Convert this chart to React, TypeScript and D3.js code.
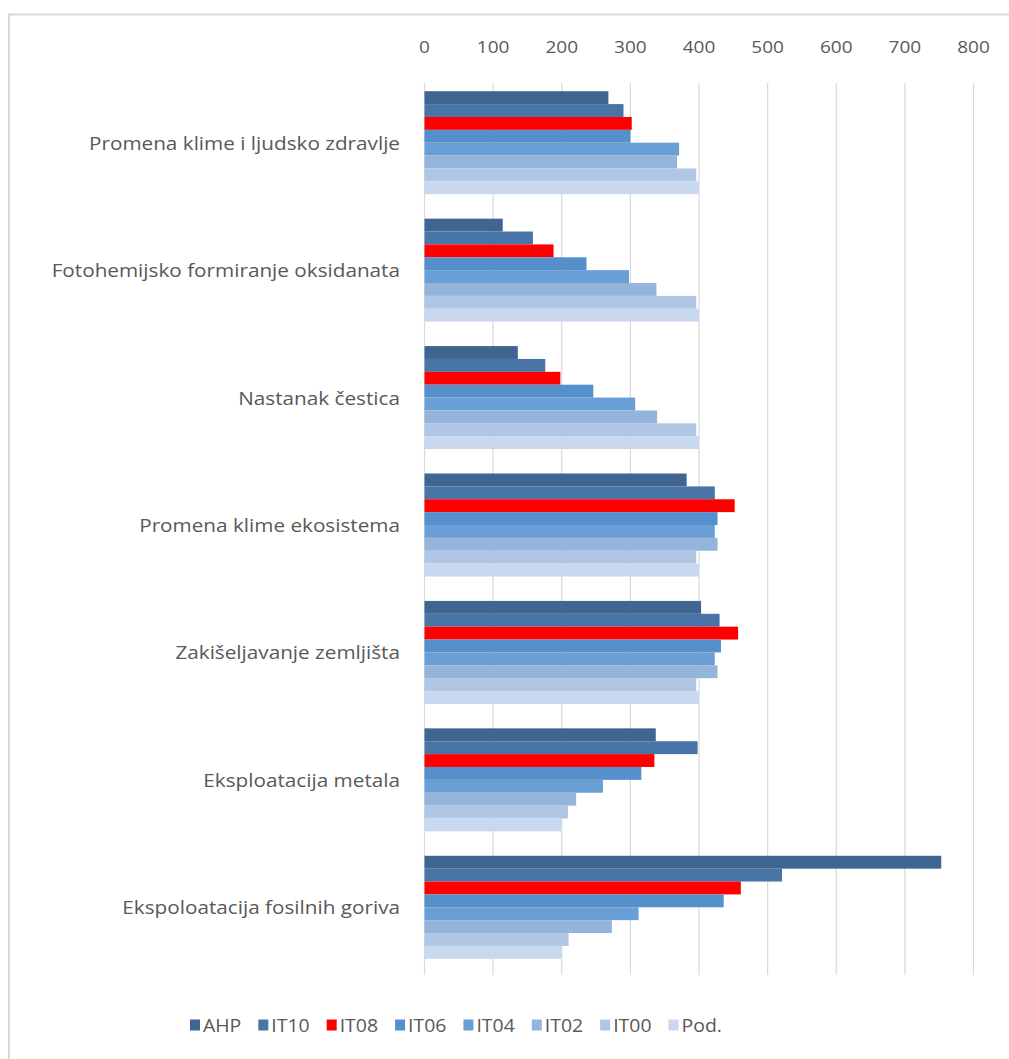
import React from "react";
import * as d3 from "d3";

const categories = [
  "Promena klime i ljudsko zdravlje",
  "Fotohemijsko formiranje oksidanata",
  "Nastanak čestica",
  "Promena klime ekosistema",
  "Zakišeljavanje zemljišta",
  "Eksploatacija metala",
  "Ekspoloatacija fosilnih goriva",
];
const seriesNames = ["AHP", "IT10", "IT08", "IT06", "IT04", "IT02", "IT00", "Pod."];
const seriesColors = ["#3F6690", "#4874A8", "#FF0000", "#5590CC", "#6A9FD6", "#94B4DC", "#AFC6E5", "#C9D8EE"];
const AHP = [268, 114, 136, 382, 403, 337, 753];
const IT10 = [290, 158, 176, 423, 430, 398, 521];
const IT08 = [302, 188, 198, 452, 457, 335, 461];
const IT06 = [300, 236, 246, 427, 432, 316, 436];
const IT04 = [371, 298, 307, 423, 423, 260, 312];
const IT02 = [368, 338, 339, 427, 427, 221, 273];
const IT00 = [396, 396, 396, 396, 396, 209, 210];
const Pod = [400, 400, 400, 400, 400, 200, 200];
const seriesValues = [AHP, IT10, IT08, IT06, IT04, IT02, IT00, Pod];
const xTicks = [0, 100, 200, 300, 400, 500, 600, 700, 800];

const FONT = "'Open Sans', sans-serif";

function measure(text: string, size: number): number {
  const c = document.createElement("canvas").getContext("2d");
  if (!c) return text.length * size * 0.5;
  c.font = `${size}px 'Open Sans'`;
  return c.measureText(text).width;
}

export default function App() {
  const W = 1009, H = 1059;
  const plotTop = 79, plotBottom = 971;
  const x = d3.scaleLinear().domain([0, 800]).range([424.5, 973.5]);
  const y0 = d3.scaleBand<string>().domain(categories).range([plotTop, plotBottom]);
  const groupH = 103;
  const y1 = d3.scaleBand<string>().domain(seriesNames).range([0, groupH]);
  const off = (y0.bandwidth() - groupH) / 2;
  const textColor = "#595959";
  const sx = 1.12;

  const legendSize = 18;
  const lsx = 1.08;
  const legendWidths = seriesNames.map((s) => 13 + measure(s, legendSize) * lsx + 17);
  const legendStart = 190;
  const legendX: number[] = [];
  let acc = legendStart;
  legendWidths.forEach((w) => { legendX.push(acc); acc += w; });

  return (
    <svg width={W} height={H} style={{ position: "absolute", left: 0, top: 0, background: "#fff" }} fontFamily={FONT}>
      <rect x={0} y={0} width={W} height={H} fill="#fff" />
      <line x1={8} x2={W} y1={14.5} y2={14.5} stroke="#d9d9d9" strokeWidth={2} />
      <line x1={9} x2={9} y1={14} y2={H} stroke="#d9d9d9" strokeWidth={2} />
      {xTicks.map((t) => (
        <g key={t}>
          <line x1={x(t)} x2={x(t)} y1={plotTop + 4} y2={975} stroke="#d9d9d9" strokeWidth={1.2} />
          <text transform={`translate(${x(t)},53) scale(${sx},1)`} textAnchor="middle" fontSize={17} fill={textColor}>{t}</text>
        </g>
      ))}
      {categories.map((c, ci) => (
        <g key={c}>
          <text transform={`translate(400,${(y0(c) as number) + y0.bandwidth() / 2 + 7}) scale(${sx},1)`} textAnchor="end" fontSize={18.5} fill={textColor}>{c}</text>
          {seriesNames.map((s, si) => (
            <rect key={s}
              x={x(0)}
              y={(y0(c) as number) + off + (y1(s) as number)}
              width={x(seriesValues[si][ci]) - x(0)}
              height={y1.bandwidth()}
              fill={seriesColors[si]} />
          ))}
        </g>
      ))}
      {seriesNames.map((s, si) => (
        <g key={s}>
          <rect x={legendX[si]} y={1019.5} width={10} height={11} fill={seriesColors[si]} />
          <text transform={`translate(${legendX[si] + 13},1032) scale(${lsx},1)`} fontSize={legendSize} fill={textColor}>{s}</text>
        </g>
      ))}
    </svg>
  );
}
